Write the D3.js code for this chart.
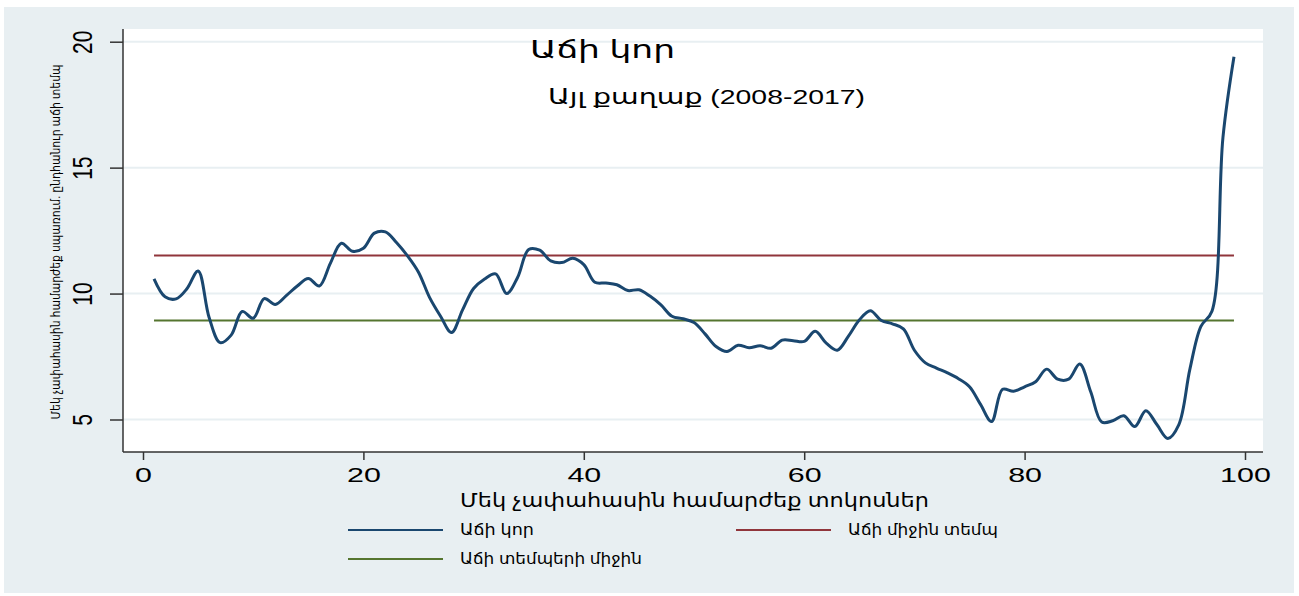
<!DOCTYPE html>
<html>
<head>
<meta charset="utf-8">
<script src="https://cdn.jsdelivr.net/npm/d3@7"></script>
<style>
  body { margin: 0; background: #fff; }
  svg { display: block; font-family: "Liberation Sans", Arial, "DejaVu Sans", sans-serif; }
</style>
</head>
<body>
<div id="chart"></div>
<script>
// growth incidence curve
const percentiles = d3.range(1, 100);
const growthCurve = [
  10.58, 9.87, 9.79, 10.2, 10.9, 9.05, 8.05, 8.35, 9.29, 9.02,
  9.8, 9.57, 9.92, 10.3, 10.6, 10.3, 11.2, 12.0, 11.68, 11.8,
  12.4, 12.45, 12.03, 11.5, 10.85, 9.85, 9.1, 8.45, 9.35, 10.2,
  10.58, 10.78, 10.0, 10.65, 11.75, 11.72, 11.3, 11.23, 11.4, 11.15,
  10.45, 10.42, 10.35, 10.12, 10.15, 9.9, 9.55, 9.1, 9.0, 8.85,
  8.4, 7.9, 7.7, 7.95, 7.85, 7.93, 7.83, 8.15, 8.13, 8.1,
  8.5, 8.03, 7.75, 8.3, 8.95, 9.32, 8.93, 8.8, 8.6, 7.75,
  7.25, 7.04, 6.85, 6.62, 6.3, 5.6, 4.92, 6.2, 6.12, 6.3,
  6.5, 7.0, 6.6, 6.6, 7.2, 6.1, 4.9, 4.95, 5.15, 4.72,
  5.35, 4.8, 4.25, 4.8, 7.0, 8.7, 9.3, 16.2, 19.4
];
const meanGrowthRate = 11.51;   // Աճի միջին տեմպ
const growthRatesMean = 8.93;   // Աճի տեմպերի միջին

const xTicks = [0, 20, 40, 60, 80, 100];
const yTicks = [5, 10, 15, 20];

const title = "Աճի կոր";
const subtitle = "Այլ քաղաք (2008-2017)";
const xTitle = "Մեկ չափահասին համարժեք տոկոսներ";
const yTitle = "Մեկ չափահասին համարժեք սպառում. ընդհանուր աճի տեմպ";
const legendLabels = ["Աճի կոր", "Աճի միջին տեմպ", "Աճի տեմպերի միջին"];

const colors = ["#1a476f", "#90353b", "#55752f"];
const W = 1299, H = 596;
const plot = { left: 123, top: 29, right: 1263, bottom: 452 };
const stretch = 1.45; // text in the source is drawn wide

const svg = d3.select("#chart").append("svg")
  .attr("width", W)
  .attr("height", H);

svg.append("rect")
  .attr("x", 4).attr("y", 7)
  .attr("width", 1290).attr("height", 586)
  .attr("fill", "#e8eff2");

svg.append("rect")
  .attr("x", plot.left).attr("y", plot.top)
  .attr("width", plot.right - plot.left)
  .attr("height", plot.bottom - plot.top)
  .attr("fill", "#fff");

const x = d3.scaleLinear().domain([0, 100]).range([143, 1245]);
const y = d3.scaleLinear().domain([5, 20]).range([419.5, 41.7]);

// grid
svg.append("g")
  .selectAll("line")
  .data(yTicks)
  .join("line")
  .attr("x1", plot.left).attr("x2", plot.right)
  .attr("y1", d => y(d)).attr("y2", d => y(d))
  .attr("stroke", "#e8eff2")
  .attr("stroke-width", 2);

// mean lines
const xr = d3.extent(percentiles);
[[meanGrowthRate, colors[1]], [growthRatesMean, colors[2]]].forEach(([v, c]) => {
  svg.append("line")
    .attr("x1", x(xr[0])).attr("x2", x(xr[1]))
    .attr("y1", y(v)).attr("y2", y(v))
    .attr("stroke", c)
    .attr("stroke-width", 2);
});

// curve
const line = d3.line()
  .x((d, i) => x(percentiles[i]))
  .y(d => y(d))
  .curve(d3.curveCatmullRom.alpha(0.5));

svg.append("path")
  .datum(growthCurve)
  .attr("fill", "none")
  .attr("stroke", colors[0])
  .attr("stroke-width", 3)
  .attr("stroke-linejoin", "round")
  .attr("d", line);

// axes
const xAxis = svg.append("g")
  .attr("transform", `translate(0,${plot.bottom})`)
  .call(d3.axisBottom(x).tickValues(xTicks).tickSize(8).tickSizeOuter(0).tickPadding(7));
xAxis.select(".domain").attr("d", `M${plot.left},0H${plot.right}`).attr("stroke", "#333").attr("stroke-width", 1.5);
xAxis.selectAll(".tick line").attr("stroke", "#333").attr("stroke-width", 1.5);
xAxis.selectAll(".tick text")
  .attr("transform", `scale(${stretch},1)`)
  .attr("font-size", 21)
  .attr("fill", "#000")
  .attr("font-family", "\"Liberation Sans\", Arial, sans-serif");

const yAxis = svg.append("g")
  .attr("transform", `translate(${plot.left},0)`)
  .call(d3.axisLeft(y).tickValues(yTicks).tickSize(13).tickSizeOuter(0));
yAxis.select(".domain").attr("d", `M0,${plot.top}V${plot.bottom}`).attr("stroke", "#333").attr("stroke-width", 1.5);
yAxis.selectAll(".tick line").attr("stroke", "#333").attr("stroke-width", 1.5);
yAxis.selectAll(".tick text")
  .attr("transform", `scale(${stretch - 0.1},1) rotate(-90)`)
  .attr("x", 0)
  .attr("y", -23)
  .attr("dy", 0)
  .attr("text-anchor", "middle")
  .attr("font-size", 21)
  .attr("fill", "#000")
  .attr("font-family", "\"Liberation Sans\", Arial, sans-serif");

// titles
svg.append("text")
  .attr("x", 530).attr("y", 58)
  .attr("font-size", 25)
  .attr("textLength", 145)
  .attr("lengthAdjust", "spacingAndGlyphs")
  .text(title);

svg.append("text")
  .attr("x", 548).attr("y", 104)
  .attr("font-size", 21)
  .attr("textLength", 317)
  .attr("lengthAdjust", "spacingAndGlyphs")
  .text(subtitle);

svg.append("text")
  .attr("x", 460).attr("y", 507)
  .attr("font-size", 19)
  .attr("textLength", 469)
  .attr("lengthAdjust", "spacingAndGlyphs")
  .text(xTitle);

svg.append("text")
  .attr("transform", "translate(60,242) rotate(-90)")
  .attr("text-anchor", "middle")
  .attr("font-size", 13)
  .attr("textLength", 355)
  .attr("lengthAdjust", "spacingAndGlyphs")
  .text(yTitle);

// legend: two columns, three keys
const legendPos = [[348, 530, 74], [736, 530, 150], [348, 559, 182]];
const legend = svg.append("g")
  .selectAll("g")
  .data(legendLabels)
  .join("g")
  .attr("transform", (d, i) => `translate(${legendPos[i][0]},${legendPos[i][1]})`);

legend.append("line")
  .attr("x1", 0).attr("x2", 95)
  .attr("stroke", (d, i) => colors[i])
  .attr("stroke-width", 2);

legend.append("text")
  .attr("x", 112)
  .attr("dy", "0.35em")
  .attr("font-size", 15)
  .attr("textLength", (d, i) => legendPos[i][2])
  .attr("lengthAdjust", "spacingAndGlyphs")
  .text(d => d);
</script>
</body>
</html>
